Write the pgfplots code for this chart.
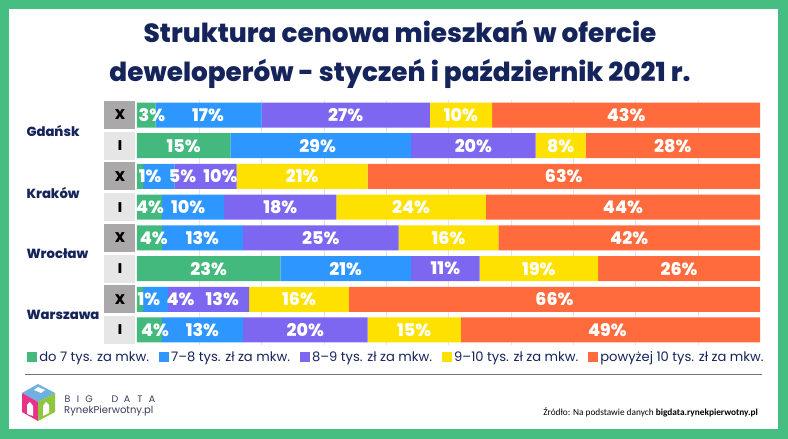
\documentclass[border=0pt]{standalone}
\usepackage{pgfplots}
\pgfplotsset{compat=1.18}
\usepackage{pgfplotstable}
\usepackage{fontspec}
\setmainfont{Poppins}
\newfontfamily\xbold{Poppins ExtraBold}
\newfontfamily\carlito{Carlito}
\definecolor{cborder}{RGB}{70,190,130}
\definecolor{cg}{RGB}{67,185,125}
\definecolor{cb}{RGB}{45,150,255}
\definecolor{cp}{RGB}{125,102,240}
\definecolor{cy}{RGB}{255,225,0}
\definecolor{co}{RGB}{255,107,60}
\definecolor{navy}{RGB}{22,36,92}
\definecolor{boxdark}{RGB}{170,168,168}
\definecolor{boxlight}{RGB}{230,230,230}
\definecolor{logoblue}{RGB}{110,176,223}
\definecolor{logopink}{RGB}{232,50,138}
\definecolor{logogreen}{RGB}{141,198,63}
\definecolor{logotext}{RGB}{55,60,90}

\pgfplotstableread{
r g b p y o
0 3 17 27 10 43
1 15 29 20 8 28
2 1 5 10 21 63
3 4 10 18 24 44
4 4 13 25 16 42
5 23 21 11 19 26
6 1 4 13 16 66
7 4 13 20 15 48
}\bars

\pgfplotstableread{
x y lab
2.4 0 3
11.4 0 17
33.5 0 27
52 0 10
78.5 0 43
7.5 1 15
29 1 29
54 1 20
68 1 8
86 1 28
2.1 2 1
7.3 2 5
13.4 2 10
26.5 2 21
68.5 2 63
2.1 3 4
8.2 3 10
23 3 18
44 3 24
78 3 44
2.7 4 4
10.5 4 13
29.5 4 25
50 4 16
79 4 42
11.5 5 23
33.5 5 21
49.5 5 11
64.5 5 19
87 5 26
1.9 6 1
7 6 4
13.7 6 13
26 6 16
67 6 66
2.9 7 4
10.5 7 13
27 7 20
44.5 7 15
75.5 7 49
}\labels

\pgfplotsset{
  myframe/.style={
    at={(137pt,93.65pt)}, anchor=south west,
    scale only axis, width=623pt, height=245.7pt,
    xmin=0, xmax=100, ymin=-0.5, ymax=7.5, y dir=reverse,
    clip=false,
  },
}
\tikzset{
  xbox/.style={fill=boxdark, minimum width=31pt, minimum height=28pt, inner sep=0pt, font=\xbold\fontsize{14}{14}\selectfont, text=black},
  ibox/.style={fill=boxlight, minimum width=31pt, minimum height=28pt, inner sep=0pt, font=\xbold\fontsize{14}{14}\selectfont, text=black},
  city/.style={anchor=west, text=navy, font=\xbold\fontsize{13.2}{16}\selectfont},
  lt/.style={anchor=base, text=logotext, inner sep=0pt, font=\fontsize{9.5}{10}\selectfont},
}

\begin{document}
\begin{tikzpicture}[x=1pt,y=1pt]
\fill[cborder] (0,0) rectangle (788,439);
\path[use as bounding box] (0,0) rectangle (788,439);
\fill[white] (9,10) rectangle (778,430);

% title
\node[anchor=base, text=navy, font=\xbold\fontsize{26.3}{30}\selectfont] at (400,396) {Struktura cenowa mieszkań w ofercie};
\node[anchor=base, text=navy, font=\xbold\fontsize{26.3}{30}\selectfont] at (400,357) {deweloperów - styczeń i październik 2021 r.};

\begin{axis}[myframe,
  xbar stacked, bar width=25pt,
  axis line style={draw=none}, tick style={draw=none},
  xtick={10,20,...,90}, xticklabels={}, ytick=\empty,
  xmajorgrids, grid style={black!10},
  legend style={at={(0.4165,-0.0474)}, anchor=center, draw=none, fill=none,
    font=\fontsize{13.1}{15}\selectfont, text=navy, legend columns=5,
    /tikz/every even column/.append style={column sep=8pt},
    inner sep=0pt},
]
\addplot[fill=cg, draw=none, legend image code/.code={\fill[cg] (0pt,-5pt) rectangle (10pt,5pt);}] table[x=g, y=r] {\bars};
\addplot[fill=cb, draw=none, legend image code/.code={\fill[cb] (0pt,-5pt) rectangle (10pt,5pt);}] table[x=b, y=r] {\bars};
\addplot[fill=cp, draw=none, legend image code/.code={\fill[cp] (0pt,-5pt) rectangle (10pt,5pt);}] table[x=p, y=r] {\bars};
\addplot[fill=cy, draw=none, legend image code/.code={\fill[cy] (0pt,-5pt) rectangle (10pt,5pt);}] table[x=y, y=r] {\bars};
\addplot[fill=co, draw=none, legend image code/.code={\fill[co] (0pt,-5pt) rectangle (10pt,5pt);}] table[x=o, y=r] {\bars};
\legend{do 7 tys. za mkw., 7–8 tys. zł za mkw., 8–9 tys. zł za mkw., 9–10 tys. zł za mkw., powyżej 10 tys. zł za mkw.}

% row label boxes
\node[xbox] at (axis cs:-2.73,0) {X};
\node[ibox] at (axis cs:-2.73,1) {I};
\node[xbox] at (axis cs:-2.73,2) {X};
\node[ibox] at (axis cs:-2.73,3) {I};
\node[xbox] at (axis cs:-2.73,4) {X};
\node[ibox] at (axis cs:-2.73,5) {I};
\node[xbox] at (axis cs:-2.73,6) {X};
\node[ibox] at (axis cs:-2.73,7) {I};
\end{axis}

\begin{axis}[myframe, hide axis]
\addplot[only marks, mark=*, mark size=0pt, mark options={draw=none, fill=none},
  point meta=explicit symbolic,
  nodes near coords={\pgfplotspointmeta\%},
  every node near coord/.append style={anchor=center, text=white, inner sep=0pt,
    font=\xbold\fontsize{17.5}{17.5}\selectfont},
] table[x=x, y=y, meta=lab] {\labels};
\end{axis}

% city labels
\node[city] at (23,308.5) {Gdańsk};
\node[city] at (23,246.5) {Kraków};
\node[city] at (23,185.5) {Wrocław};
\node[city] at (23,124.5) {Warszawa};

% separator line
\draw[black!55, line width=1pt] (25,64) -- (762,64);

% logo
\fill[logoblue] (38,55) -- (55,46) -- (38,37) -- (22,46) -- cycle;
\fill[logopink] (22,46) -- (38,37) -- (38,18) -- (22,27) -- cycle;
\fill[logogreen] (38,37) -- (55,46) -- (55,27) -- (38,18) -- cycle;
\fill[white] (27,25) -- (27,34) -- (30,37) -- (33,33) -- (33,23) -- cycle;
\fill[white] (43,23) -- (43,33) -- (46,37) -- (49,34) -- (49,26) -- cycle;
\fill[white] (34,49) -- (38,52) -- (45,49) -- (41,46) -- cycle;
\node[lt] at (67.5,36) {B};
\node[lt] at (78,36) {I};
\node[lt] at (89,36) {G};
\node[lt] at (115,36) {D};
\node[lt] at (127,36) {A};
\node[lt] at (140,36) {T};
\node[lt] at (152,36) {A};
\node[anchor=base west, text=logotext, font=\fontsize{10}{11}\selectfont, inner sep=0pt] at (64,25) {RynekPierwotny.pl};

% source
\node[anchor=base east, text=black, font=\carlito\fontsize{9.3}{11}\selectfont, inner sep=0pt] at (758,23) {Źródło: Na podstawie danych \textbf{bigdata.rynekpierwotny.pl}};
\end{tikzpicture}
\end{document}
